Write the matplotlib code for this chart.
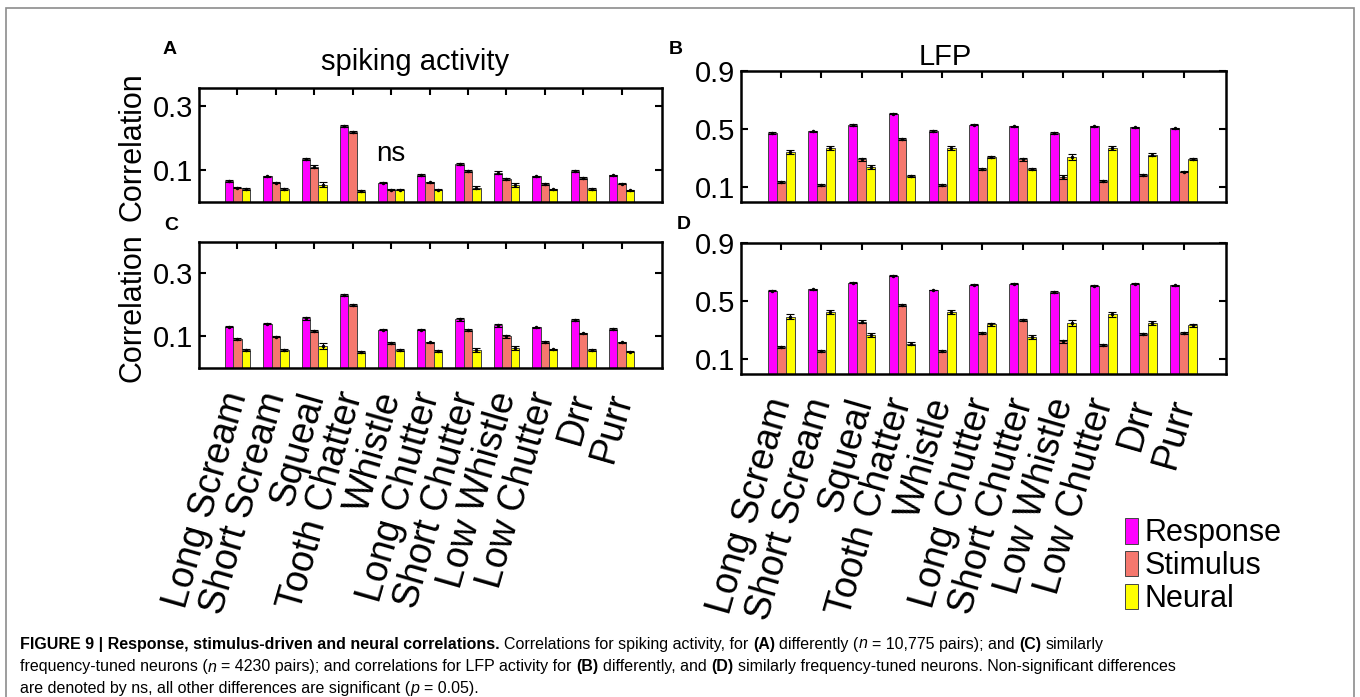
import numpy as np
import matplotlib
matplotlib.use("Agg")
import matplotlib.pyplot as plt
from matplotlib.patches import Patch, Rectangle

plt.rcParams['font.family'] = ['Liberation Sans', 'DejaVu Sans']

# ---- data ----
calls = ["Long Scream", "Short Scream", "Squeal", "Tooth Chatter", "Whistle",
         "Long Chutter", "Short Chutter", "Low Whistle", "Low Chutter", "Drr", "Purr"]
series = ["Response", "Stimulus", "Neural"]
colors = ["#ff00ff", "#f5786e", "#ffff00"]

# A: spiking, differently tuned
spk_diff_resp = [0.066, 0.080, 0.134, 0.237, 0.060, 0.084, 0.119, 0.092, 0.080, 0.097, 0.083]
spk_diff_stim = [0.045, 0.060, 0.110, 0.218, 0.038, 0.061, 0.098, 0.073, 0.056, 0.075, 0.057]
spk_diff_neur = [0.040, 0.040, 0.054, 0.035, 0.039, 0.038, 0.045, 0.053, 0.040, 0.042, 0.037]
spk_diff_err = [[0.002, 0.002, 0.004, 0.003, 0.002, 0.002, 0.003, 0.004, 0.002, 0.003, 0.002],
                [0.002, 0.002, 0.004, 0.003, 0.002, 0.002, 0.003, 0.003, 0.002, 0.002, 0.002],
                [0.003, 0.003, 0.008, 0.003, 0.003, 0.002, 0.005, 0.007, 0.002, 0.003, 0.002]]

# C: spiking, similarly tuned
spk_sim_resp = [0.131, 0.140, 0.157, 0.232, 0.121, 0.121, 0.154, 0.135, 0.128, 0.151, 0.123]
spk_sim_stim = [0.092, 0.099, 0.117, 0.199, 0.079, 0.081, 0.119, 0.100, 0.082, 0.110, 0.081]
spk_sim_neur = [0.057, 0.057, 0.069, 0.050, 0.057, 0.054, 0.057, 0.064, 0.059, 0.057, 0.052]
spk_sim_err = [[0.002, 0.002, 0.005, 0.003, 0.002, 0.002, 0.004, 0.004, 0.002, 0.003, 0.002],
               [0.002, 0.002, 0.004, 0.003, 0.002, 0.002, 0.003, 0.004, 0.002, 0.002, 0.002],
               [0.003, 0.003, 0.009, 0.003, 0.003, 0.002, 0.005, 0.007, 0.002, 0.003, 0.002]]

# B: LFP, differently tuned
lfp_diff_resp = [0.474, 0.486, 0.530, 0.607, 0.488, 0.530, 0.519, 0.473, 0.520, 0.514, 0.507]
lfp_diff_stim = [0.137, 0.116, 0.295, 0.433, 0.116, 0.228, 0.295, 0.172, 0.147, 0.186, 0.209]
lfp_diff_neur = [0.342, 0.370, 0.242, 0.179, 0.370, 0.307, 0.227, 0.309, 0.372, 0.326, 0.295]
lfp_diff_err = [[0.004, 0.004, 0.005, 0.004, 0.004, 0.004, 0.004, 0.008, 0.004, 0.004, 0.004],
                [0.007, 0.007, 0.010, 0.007, 0.007, 0.005, 0.010, 0.012, 0.007, 0.007, 0.005],
                [0.012, 0.014, 0.013, 0.008, 0.012, 0.008, 0.010, 0.022, 0.012, 0.013, 0.008]]

# D: LFP, similarly tuned
lfp_sim_resp = [0.573, 0.582, 0.627, 0.675, 0.577, 0.614, 0.620, 0.564, 0.607, 0.620, 0.609]
lfp_sim_stim = [0.184, 0.157, 0.359, 0.477, 0.157, 0.282, 0.371, 0.224, 0.200, 0.277, 0.282]
lfp_sim_neur = [0.395, 0.427, 0.270, 0.209, 0.427, 0.341, 0.255, 0.350, 0.409, 0.350, 0.334]
lfp_sim_err = [[0.003, 0.003, 0.004, 0.004, 0.003, 0.003, 0.003, 0.008, 0.004, 0.003, 0.004],
               [0.008, 0.008, 0.010, 0.007, 0.008, 0.005, 0.009, 0.012, 0.008, 0.008, 0.006],
               [0.014, 0.016, 0.014, 0.008, 0.014, 0.009, 0.012, 0.022, 0.014, 0.013, 0.009]]

W, H = 1360, 697
fig = plt.figure(figsize=(W / 100, H / 100), dpi=100)


def px_axes(x0, y0, x1, y1):
    # pixel box (top-left origin) -> figure axes
    return fig.add_axes([x0 / W, 1 - y1 / H, (x1 - x0) / W, (y1 - y0) / H])


def panel(ax, vals, errs, ylim, yticks, show_labels):
    x = np.arange(1, len(calls) + 1)
    bw = 0.22
    for i, (v, e) in enumerate(zip(vals, errs)):
        xi = x + (i - 1) * bw
        ax.bar(xi, v, width=bw, color=colors[i], edgecolor="#444444", linewidth=0.7, zorder=2)
        ax.errorbar(xi, v, yerr=e, fmt=".", color="k", ms=3, elinewidth=0.8,
                    capsize=3, capthick=0.8, zorder=3)
    ax.set_xlim(0, 12.05)
    ax.set_ylim(*ylim)
    ax.set_yticks(yticks)
    ax.set_yticklabels(["%.1f" % t for t in yticks])
    ax.set_xticks(x)
    if show_labels:
        ax.set_xticklabels(calls, rotation=74, ha="right", va="center",
                           rotation_mode="anchor", fontsize=27)
    else:
        ax.set_xticklabels([])
    ax.tick_params(axis="x", direction="in", top=True, bottom=False, length=5, width=1.5, pad=18)
    ax.tick_params(axis="y", direction="in", left=True, right=True, length=5, width=1.5,
                   labelsize=21, pad=4)
    for s in ax.spines.values():
        s.set_linewidth(1.8)


axA = px_axes(199, 88, 662, 202)
panel(axA, [spk_diff_resp, spk_diff_stim, spk_diff_neur], spk_diff_err, (0, 0.356), [0.1, 0.3], False)
axC = px_axes(199, 242, 662, 368)
panel(axC, [spk_sim_resp, spk_sim_stim, spk_sim_neur], spk_sim_err, (0, 0.398), [0.1, 0.3], True)
axB = px_axes(741, 71, 1226, 202)
panel(axB, [lfp_diff_resp, lfp_diff_stim, lfp_diff_neur], lfp_diff_err, (0, 0.9), [0.1, 0.5, 0.9], False)
axD = px_axes(741, 243, 1226, 374)
panel(axD, [lfp_sim_resp, lfp_sim_stim, lfp_sim_neur], lfp_sim_err, (0, 0.9), [0.1, 0.5, 0.9], True)

# ns above Whistle in panel A
axA.text(5, 0.15, "ns", ha="center", va="center", fontsize=20)


def ftext(x, y, s, **kw):
    return fig.text(x / W, 1 - y / H, s, **kw)


ftext(415, 62, "spiking activity", ha="center", va="center", fontsize=21)
ftext(945, 57, "LFP", ha="center", va="center", fontsize=21)
ftext(133, 147, "Correlation", rotation=90, ha="center", va="center", fontsize=22)
ftext(133, 308, "Correlation", rotation=90, ha="center", va="center", fontsize=22)
for lab, (lx, ly) in zip("ABCD", [(170, 50), (676, 50), (171, 226), (684, 225)]):
    ftext(lx, ly, lab, ha="center", va="center", fontsize=14, fontweight="bold")

handles = [Patch(facecolor=c, edgecolor="#444444", linewidth=0.7) for c in colors]
fig.legend(handles, series, loc="upper left", bbox_to_anchor=(1110 / W, 1 - 503 / H),
           frameon=False, fontsize=22, handlelength=0.42, handleheight=0.9,
           handletextpad=0.2, labelspacing=0.08, borderpad=0)

# outer frame
fig.patches.append(Rectangle((6 / W, -0.05), 1348 / W, 1.05 - 8 / H, transform=fig.transFigure,
                             fill=False, edgecolor="#8c8c8c", linewidth=1.2))

# caption
cap_font = ["Liberation Sans Narrow", "Liberation Sans", "DejaVu Sans"]
cap_size = 11.5
cap_lines = [
    [("FIGURE 9 | Response, stimulus-driven and neural correlations.", "b"),
     (" Correlations for spiking activity, for ", ""), ("(A)", "b"), (" differently (", ""),
     ("n", "i"), (" = 10,775 pairs); and ", ""), ("(C)", "b"), (" similarly", "")],
    [("frequency-tuned neurons (", ""), ("n", "i"),
     (" = 4230 pairs); and correlations for LFP activity for ", ""), ("(B)", "b"),
     (" differently, and ", ""), ("(D)", "b"),
     (" similarly frequency-tuned neurons. Non-significant differences", "")],
    [("are denoted by ns, all other differences are significant (", ""), ("p", "i"),
     (" = 0.05).", "")],
]
cap_y = [644, 667, 689]

renderer = fig.canvas.get_renderer()


def seg_props(style):
    return dict(fontsize=cap_size, family=cap_font,
                fontweight="bold" if style == "b" else "normal",
                fontstyle="italic" if style == "i" else "normal")


def width_of(s, style):
    t = fig.text(0, 0, s, **seg_props(style))
    w = t.get_window_extent(renderer).width
    t.remove()
    return w


space_w = width_of("x x", "") - width_of("xx", "")
for segs, yy in zip(cap_lines, cap_y):
    x = 20
    for s, style in segs:
        core = s.strip(" ")
        lead = len(s) - len(s.lstrip(" "))
        trail = len(s) - len(s.rstrip(" "))
        x += lead * space_w
        t = ftext(x, yy, core, ha="left", va="center", **seg_props(style))
        x += t.get_window_extent(renderer).width + trail * space_w

fig.savefig("out.png", dpi=100)
